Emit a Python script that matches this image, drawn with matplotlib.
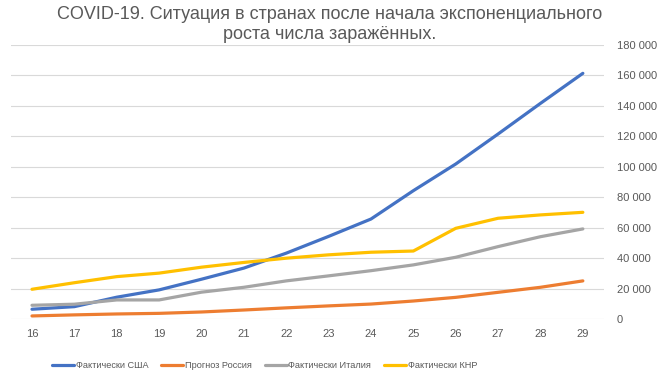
import matplotlib
matplotlib.use("Agg")
import matplotlib.pyplot as plt
from matplotlib.ticker import FuncFormatter

plt.rcParams['font.family'] = ['Liberation Sans', 'DejaVu Sans']

days = [16, 17, 18, 19, 20, 21, 22, 23, 24, 25, 26, 27, 28, 29]

usa = [6600, 8300, 14500, 19300, 26300, 33600, 43400, 54400, 65800, 84400, 101900, 121600, 141700, 161400]
russia = [2200, 2900, 3500, 3900, 4800, 6100, 7500, 8800, 10000, 12000, 14400, 17700, 21000, 25200]
italy = [9200, 9900, 12700, 12700, 17800, 21000, 25200, 28500, 31900, 35700, 40700, 47700, 54200, 59300]
china = [19700, 24000, 28000, 30300, 34200, 37300, 40100, 42300, 44000, 44800, 59700, 66300, 68500, 70200]

names = ["Фактически США", "Прогноз Россия", "Фактически Италия", "Фактически КНР"]
colors = ["#4472C4", "#ED7D31", "#A5A5A5", "#FFC000"]

title = "COVID-19. Ситуация в странах после начала экспоненциального\nроста числа заражённых."

fig = plt.figure(figsize=(6.59, 3.78), dpi=100)
ax = fig.add_axes([0.0164, 0.1553, 0.9002, 0.7257])

for vals, name, c in zip([usa, russia, italy, china], names, colors):
    ax.plot(days, vals, color=c, lw=2.3, label=name, solid_capstyle='round')

ax.set_xlim(15.5, 29.5)
ax.set_ylim(0, 180000)
ax.set_yticks(range(0, 180001, 20000))
ax.yaxis.set_major_formatter(FuncFormatter(lambda v, p: f"{int(v):,}".replace(",", " ")))
ax.yaxis.tick_right()
ax.set_xticks(days)
ax.tick_params(length=0, labelsize=8, labelcolor="#595959")
ax.tick_params(axis='y', pad=9)
ax.tick_params(axis='x', pad=7)
ax.grid(axis='y', color="#D9D9D9", lw=0.8)
ax.set_axisbelow(True)
for s in ax.spines.values():
    s.set_visible(False)

fig.text(0.5, 0.985, title, ha='center', va='top', fontsize=13, color="#595959", linespacing=1.25)

fig.legend(loc='lower left', bbox_to_anchor=(0.066, 0.0), ncol=4, frameon=False,
           fontsize=6.6, labelcolor="#595959", handlelength=2.4, handletextpad=0.2,
           columnspacing=1.4)

fig.savefig("out.png", dpi=100)
